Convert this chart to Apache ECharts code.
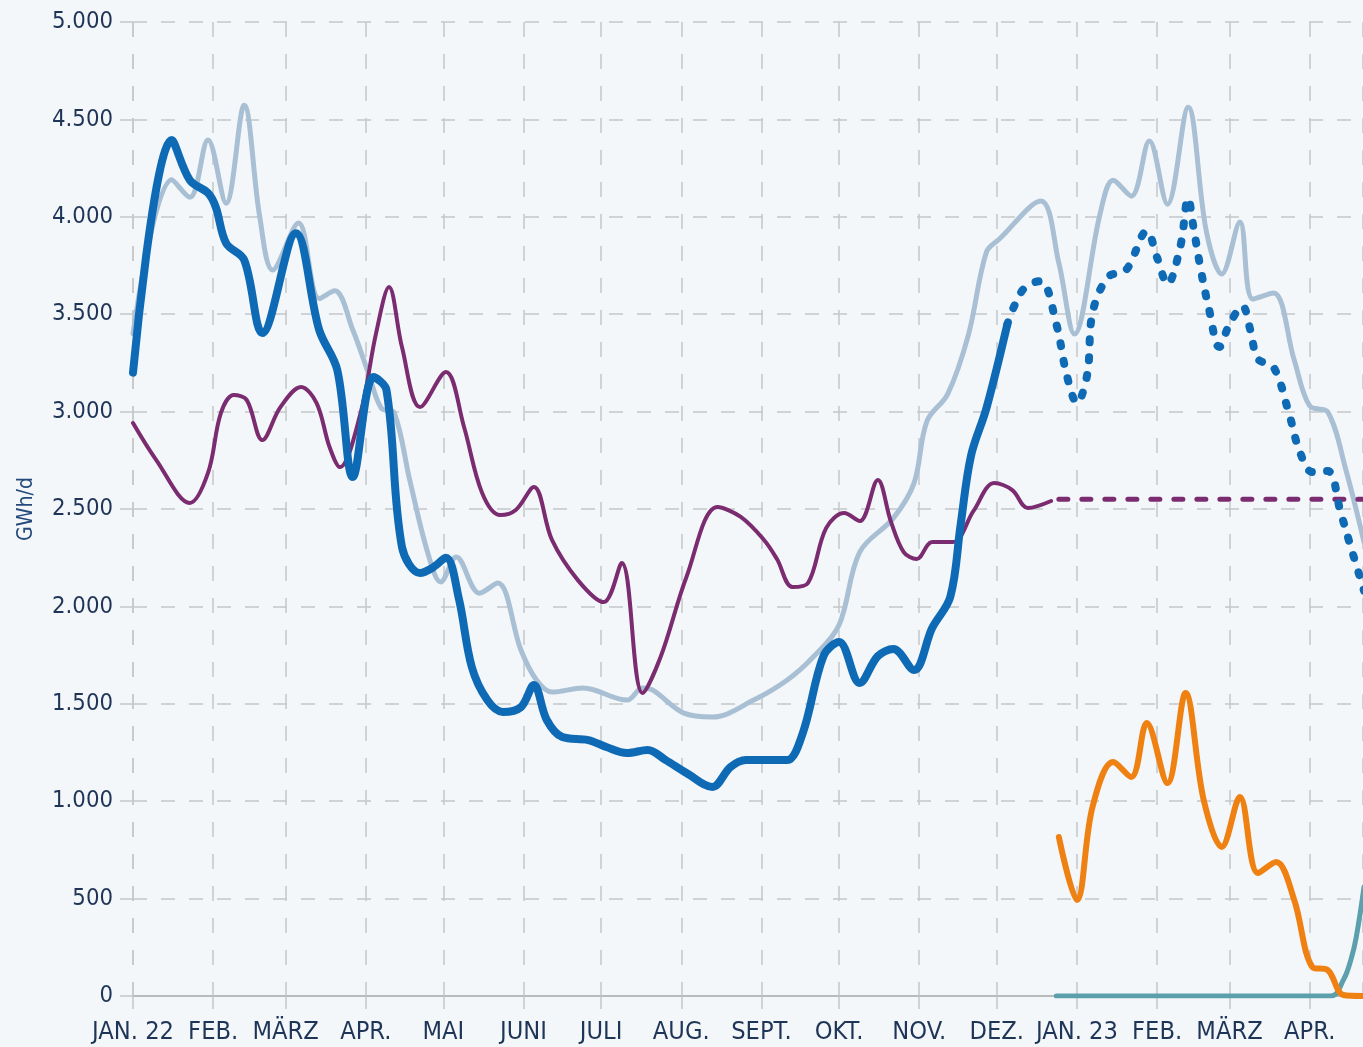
<!DOCTYPE html>
<html>
<head>
<meta charset="utf-8">
<script src="https://cdn.jsdelivr.net/npm/echarts@6/dist/echarts.min.js"></script>
<style>
  html, body { margin: 0; padding: 0; background: #f3f7fa; }
  #chart { width: 1363px; height: 1047px; }
</style>
</head>
<body>
<div id="chart"></div>
<script>
// Tick labels (month names, German)
const monthLabels = ['JAN.', 'FEB.', 'MÄRZ', 'APR.', 'MAI', 'JUNI', 'JULI', 'AUG.', 'SEPT.', 'OKT.', 'NOV.', 'DEZ.'];

// Days counted from 1 Jan 2022, values in GWh/d
const lightDays = [0, 15, 22, 29, 36, 43, 49, 54, 64, 72, 78, 85, 91, 96, 101, 107, 114, 119, 125, 134, 141, 150, 156, 162, 174, 191, 197, 201, 213, 224, 240, 253, 263, 273, 281, 294, 302, 307, 315, 323, 330, 335, 351, 358, 364, 374, 379, 386, 393, 400, 408, 415, 421, 428, 433, 441, 449, 455, 462, 469, 476];
const lightVals = [3400, 4190, 4100, 4394, 4070, 4573, 4000, 3727, 3968, 3580, 3620, 3419, 3198, 3018, 2993, 2649, 2274, 2125, 2253, 2068, 2120, 1776, 1622, 1560, 1581, 1519, 1581, 1570, 1452, 1432, 1519, 1622, 1740, 1904, 2279, 2453, 2633, 2951, 3090, 3393, 3819, 3886, 4081, 3762, 3398, 4019, 4188, 4106, 4389, 4065, 4563, 3927, 3706, 3973, 3578, 3609, 3265, 3029, 2998, 2700, 2330];

const darkDays = [0, 15, 22, 29, 32, 36, 43, 50, 63, 72, 79, 85, 93, 98, 104, 111, 116, 121, 126, 131, 137, 143, 150, 155, 160, 166, 176, 183, 191, 199, 206, 214, 224, 231, 237, 247, 253, 259, 267, 273, 281, 288, 294, 302, 309, 316, 320, 324, 330, 338];
const darkVals = [3200, 4394, 4188, 4122, 4050, 3865, 3778, 3403, 3916, 3419, 3213, 2664, 3177, 3111, 2305, 2171, 2200, 2250, 2040, 1689, 1519, 1458, 1483, 1596, 1417, 1329, 1314, 1278, 1247, 1263, 1211, 1145, 1073, 1175, 1211, 1211, 1211, 1350, 1745, 1817, 1607, 1745, 1781, 1673, 1889, 2048, 2418, 2772, 3018, 3444];

const forecastDays = [338, 340, 345, 351, 357, 361, 365, 369, 371, 377, 384, 392, 396, 400, 405, 408, 410, 413, 416, 420, 424, 429, 432, 435, 441, 447, 451, 456, 462, 467, 471, 476];
const forecastVals = [3444, 3520, 3640, 3670, 3450, 3190, 3044, 3193, 3506, 3691, 3727, 3927, 3790, 3655, 3850, 4096, 3950, 3720, 3530, 3331, 3450, 3542, 3420, 3270, 3229, 2990, 2800, 2690, 2695, 2480, 2300, 2080];

const purpleDays = [0, 9, 22, 29, 34, 39, 44, 50, 57, 65, 71, 76, 80, 88, 94, 99, 104, 111, 121, 128, 135, 142, 148, 155, 162, 172, 182, 189, 197, 204, 214, 226, 235, 244, 249, 255, 261, 268, 275, 281, 288, 293, 298, 303, 309, 317, 325, 333, 340, 346, 355];
const purpleVals = [2941, 2751, 2531, 2685, 2993, 3085, 3059, 2854, 3023, 3126, 3044, 2818, 2715, 2993, 3403, 3639, 3331, 3023, 3203, 2921, 2582, 2469, 2495, 2613, 2341, 2135, 2022, 2223, 1555, 1740, 2151, 2510, 2459, 2341, 2243, 2099, 2120, 2402, 2479, 2438, 2649, 2438, 2279, 2243, 2330, 2330, 2490, 2633, 2597, 2505, 2541];

const purpleDashDays = [358, 476];
const purpleDashVals = [2550, 2550];

const orangeDays = [358, 365, 371, 379, 386, 392, 400, 407, 414, 421, 428, 435, 442, 449, 456, 462, 468, 476];
const orangeVals = [816, 493, 970, 1201, 1124, 1401, 1093, 1555, 1006, 765, 1021, 631, 688, 493, 149, 133, 5, 0];

const tealDays = [357, 463, 468, 471, 473, 476];
const tealVals = [0, 0, 82, 190, 303, 560];

const DAY = 86400000;
function ts(d) {
  const whole = Math.floor(d);
  return new Date(2022, 0, 1 + whole).getTime() + (d - whole) * DAY;
}
function pairs(days, vals) {
  return days.map((d, i) => [ts(d), vals[i]]);
}
function fmtNum(v) {
  if (v >= 1000) {
    const t = Math.floor(v / 1000);
    const r = String(v % 1000).padStart(3, '0');
    return t + '.' + r;
  }
  return String(v);
}

// pick a condensed font if one is installed, otherwise size a regular one to the same width
const ctx = document.createElement('canvas').getContext('2d');
function widthOf(fam, s) { ctx.font = '100px ' + fam; return ctx.measureText(s).width / 100; }
function installed(name) {
  const s = 'JAN. 22 MÄRZ 5.000 GWh/d';
  return widthOf('"' + name + '", monospace', s) !== widthOf('monospace', s) ||
         widthOf('"' + name + '", serif', s) !== widthOf('serif', s);
}
const candidates = ['Liberation Sans Narrow', 'Arial Narrow', 'DejaVu Sans Condensed', 'Roboto Condensed', 'Nimbus Sans Narrow'];
let fam = '"Liberation Sans", Arial, sans-serif';
for (const c of candidates) { if (installed(c)) { fam = '"' + c + '", "Liberation Sans", sans-serif'; break; } }
const xSize = Math.min(27, 82 / widthOf(fam, 'JAN. 22'));
const ySize = Math.min(26, 61 / widthOf(fam, '5.000'));
const nSize = Math.min(24, 64 / widthOf(fam, 'GWh/d'));

const textColor = '#1f3557';
const gridColor = '#c5c7c9';

const chart = echarts.init(document.getElementById('chart'), null, { renderer: 'canvas' });
const option = {
  backgroundColor: '#f3f7fa',
  animation: false,
  grid: { left: 133, right: 0, top: 22, bottom: 51, containLabel: false },
  xAxis: {
    type: 'time',
    min: ts(0),
    max: ts(475.6),
    splitNumber: 16,
    minInterval: 28 * DAY,
    maxInterval: 31 * DAY,
    axisLine: { show: true, lineStyle: { color: '#b8babc', width: 2 } },
    axisTick: { show: true, length: 13, lineStyle: { color: gridColor, width: 1.5 } },
    minorTick: { show: false },
    splitLine: { show: true, lineStyle: { color: gridColor, width: 1.5, type: [15, 17] } },
    axisLabel: {
      color: textColor,
      fontFamily: fam,
      fontSize: xSize,
      margin: 24,
      showMinLabel: true,
      showMaxLabel: false,
      hideOverlap: false,
      formatter: function (value) {
        const d = new Date(value);
        const m = d.getMonth();
        if (m === 0) return monthLabels[0] + ' ' + String(d.getFullYear()).slice(2);
        return monthLabels[m];
      }
    }
  },
  yAxis: {
    type: 'value',
    min: 0,
    max: 5000,
    interval: 500,
    name: 'GWh/d',
    nameLocation: 'middle',
    nameRotate: 90,
    nameGap: 96,
    nameTextStyle: { color: '#254a7a', fontFamily: fam, fontSize: nSize },
    axisLine: { show: false },
    axisTick: { show: true, length: 13, lineStyle: { color: gridColor, width: 1.5 } },
    splitLine: { show: true, lineStyle: { color: gridColor, width: 1.5, type: [14, 14] } },
    axisLabel: {
      color: textColor,
      fontFamily: fam,
      fontSize: ySize,
      margin: 20,
      formatter: fmtNum
    }
  },
  series: [
    {
      name: 'Referenz', type: 'line', data: pairs(lightDays, lightVals),
      showSymbol: false, smooth: 0.35,
      lineStyle: { color: '#a8bfd4', width: 5, cap: 'round', join: 'round' }, z: 2
    },
    {
      name: 'Verbrauch Lila', type: 'line', data: pairs(purpleDays, purpleVals),
      showSymbol: false, smooth: 0.35,
      lineStyle: { color: '#7b2b6f', width: 4, cap: 'round', join: 'round' }, z: 3
    },
    {
      name: 'Verbrauch Lila Prognose', type: 'line', data: pairs(purpleDashDays, purpleDashVals),
      showSymbol: false,
      lineStyle: { color: '#7b2b6f', width: 5, type: [9, 14], cap: 'round' }, z: 3
    },
    {
      name: 'Verbrauch 2022', type: 'line', data: pairs(darkDays, darkVals),
      showSymbol: false, smooth: 0.35,
      lineStyle: { color: '#0f6ab5', width: 8, cap: 'round', join: 'round' }, z: 4
    },
    {
      name: 'Prognose', type: 'line', data: pairs(forecastDays, forecastVals),
      showSymbol: false, smooth: 0.35,
      lineStyle: { color: '#0f6ab5', width: 8, type: [3, 15], cap: 'round', join: 'round' }, z: 4
    },
    {
      name: 'Türkis', type: 'line', data: pairs(tealDays, tealVals),
      showSymbol: false, smooth: 0.4,
      lineStyle: { color: '#5c9fad', width: 5, cap: 'round', join: 'round' }, z: 5
    },
    {
      name: 'Orange', type: 'line', data: pairs(orangeDays, orangeVals),
      showSymbol: false, smooth: 0.35,
      lineStyle: { color: '#ef8113', width: 6, cap: 'round', join: 'round' }, z: 6
    }
  ]
};
chart.setOption(option);
</script>
</body>
</html>
